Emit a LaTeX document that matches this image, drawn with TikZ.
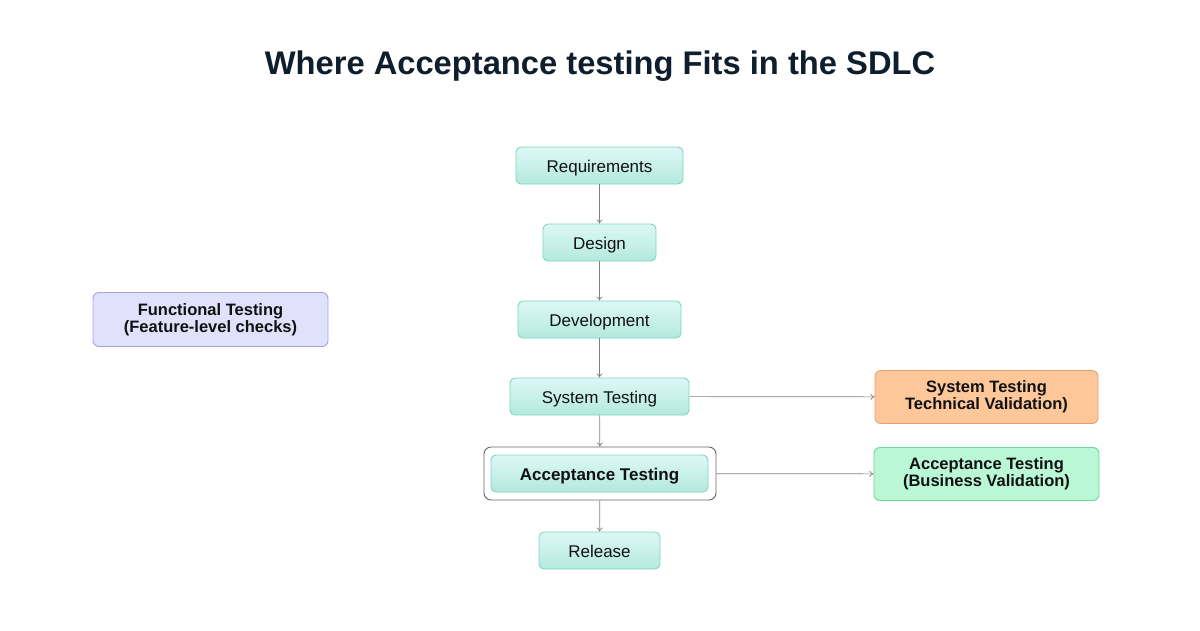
\documentclass[tikz,border=0pt]{standalone}
\usepackage{fontspec}
\setmainfont{Liberation Sans}
\usetikzlibrary{arrows.meta}
\definecolor{titlec}{HTML}{0F1E2C}
\definecolor{flowtop}{HTML}{DDF8F6}
\definecolor{flowbot}{HTML}{B3E9DD}
\definecolor{flowline}{HTML}{7DD6BF}
\definecolor{lavfill}{HTML}{E1E1FB}
\definecolor{lavline}{HTML}{A3A3E3}
\definecolor{orfill}{HTML}{FDC79A}
\definecolor{orline}{HTML}{E6A06E}
\definecolor{grfill}{HTML}{B9F7D5}
\definecolor{grline}{HTML}{6CD79A}
\definecolor{arr}{HTML}{808080}
\definecolor{txt}{HTML}{111111}
\begin{document}
\begin{tikzpicture}[x=1pt,y=-1pt,
  flowbox/.style={draw=flowline,line width=0.9pt,rounded corners=5pt,top color=flowtop,bottom color=flowbot,
    minimum height=37pt,inner sep=0pt,text height=13.5pt,text depth=0pt,font=\fontsize{17}{19}\selectfont,text=txt},
  sidebox/.style={rounded corners=6pt,line width=0.9pt,minimum height=54pt,inner sep=0pt,
    align=center,font=\fontsize{16.5}{17}\selectfont\bfseries,text=txt},
  conn/.style={draw=arr,line width=0.7pt,-{To[length=4pt,width=6pt]}}]
\useasboundingbox (0,0) rectangle (1200,630);
\fill[white] (0,0) rectangle (1200,630);
\node[font=\fontsize{32.7}{36}\selectfont\bfseries,text=titlec] (title) at (600,66) {Where Acceptance testing Fits in the SDLC};
\node[flowbox,minimum width=167pt] (req) at (599.5,165.5) {Requirements};
\node[flowbox,minimum width=113pt] (des) at (599.5,242.5) {Design};
\node[flowbox,minimum width=163pt] (dev) at (599.5,319.5) {Development};
\node[flowbox,minimum width=179pt] (sys) at (599.5,396.5) {System Testing};
\node[draw=arr!80!black,line width=0.9pt,rounded corners=7pt,minimum width=232pt,minimum height=53pt,inner sep=0pt] (accout) at (600,473.5) {};
\node[flowbox,minimum width=217pt,font=\fontsize{17}{19}\selectfont\bfseries] (acc) at (599.5,473.5) {Acceptance Testing};
\node[flowbox,minimum width=121pt] (rel) at (599.5,550.5) {Release};
\node[sidebox,draw=lavline,fill=lavfill,minimum width=235pt] (func) at (210.5,319.5) {Functional Testing\\(Feature-level checks)};
\node[sidebox,draw=orline,fill=orfill,minimum width=223pt,minimum height=53pt] (sysv) at (986.5,397) {System Testing\\Technical Validation)};
\node[sidebox,draw=grline,fill=grfill,minimum width=225pt,minimum height=53pt] (accv) at (986.5,474) {Acceptance Testing\\(Business Validation)};
\draw[conn] (req) -- (des);
\draw[conn] (des) -- (dev);
\draw[conn] (dev) -- (sys);
\draw[conn] (sys) -- (accout);
\draw[conn] (accout) -- (rel);
\draw[conn] (sys) -- (sysv);
\draw[conn] (accout) -- (accv);
\end{tikzpicture}
\end{document}
